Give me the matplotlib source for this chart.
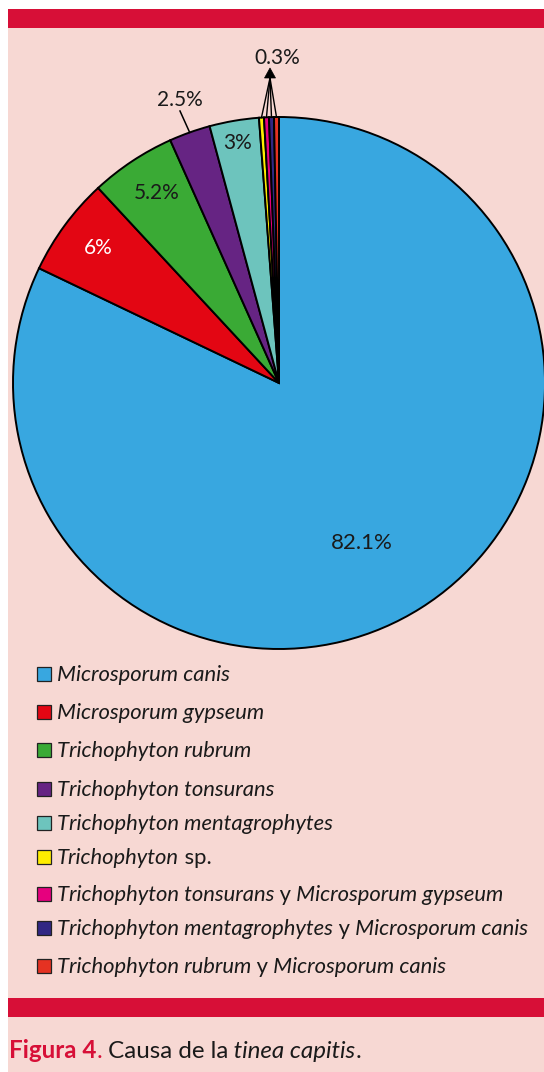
import numpy as np
import matplotlib
matplotlib.use("Agg")
import matplotlib.pyplot as plt
from matplotlib.patches import Rectangle, Polygon

# Species and their share of tinea capitis cases (%)
species = [
    "Microsporum canis",
    "Microsporum gypseum",
    "Trichophyton rubrum",
    "Trichophyton tonsurans",
    "Trichophyton mentagrophytes",
    "Trichophyton sp.",
    "Trichophyton tonsurans y Microsporum gypseum",
    "Trichophyton mentagrophytes y Microsporum canis",
    "Trichophyton rubrum y Microsporum canis",
]
shares = [82.1, 6.0, 5.2, 2.5, 3.0, 0.3, 0.3, 0.3, 0.3]
value_labels = ["82.1%", "6%", "5.2%", "2.5%", "3%", "0.3%"]

colors = ["#38A7E0", "#E30613", "#3AAA35", "#662483", "#6DC4BD",
          "#FFED00", "#E6007E", "#312783", "#E53222"]

BG = "#F7D8D3"
BAND = "#D70F37"
FONT = "Lato"

W, H = 544, 1072
fig = plt.figure(figsize=(W / 100, H / 100), dpi=100)
fig.patch.set_facecolor("white")
ax = fig.add_axes([0, 0, 1, 1])


def Y(y):
    """Convert a top-down pixel row to the axes' bottom-up coordinate."""
    return H - y


# page background and the two red bands
ax.add_patch(Rectangle((8, 0), W - 8, Y(28), facecolor=BG, edgecolor="none", zorder=0))
ax.add_patch(Rectangle((8, Y(28)), W - 8, 19, facecolor=BAND, edgecolor="none", zorder=0))
ax.add_patch(Rectangle((8, Y(1017)), W - 8, 19, facecolor=BAND, edgecolor="none", zorder=0))

# pie
cx, cy, R = 279, Y(383), 266
wedges, _ = ax.pie(shares, colors=colors, startangle=90, counterclock=False,
                   center=(cx, cy), radius=R,
                   wedgeprops=dict(edgecolor="black", linewidth=1.4))
ax.set_xlim(0, W)
ax.set_ylim(0, H)
ax.set_aspect("auto")
ax.axis("off")


def mid_angle(w):
    return np.deg2rad((w.theta1 + w.theta2) / 2)


def arc_point(w, r=R):
    a = mid_angle(w)
    return cx + r * np.cos(a), cy + r * np.sin(a)


# percentages inside / beside the wedges
label_pos = [(362, 543), (98, 248), (157, 193), (180, 100), (238, 143)]
label_col = ["#1a1a1a", "white", "#1a1a1a", "#1a1a1a", "#1a1a1a"]
label_size = [16, 15, 15, 15, 15]
for txt, (lx, ly), col, fs in zip(value_labels[:5], label_pos, label_col, label_size):
    ax.text(lx, Y(ly), txt, ha="center", va="center", fontsize=fs,
            color=col, family=FONT, zorder=5)

# leader line for 2.5%
px, py = arc_point(wedges[3])
ax.plot([180, px], [Y(111), py], color="black", lw=1.1, zorder=5)

# the four smallest wedges share one label with an arrow
ax.text(277, Y(58), value_labels[5], ha="center", va="center", fontsize=15,
        color="#1a1a1a", family=FONT, zorder=5)
base = (270, Y(78))
for w in wedges[5:]:
    ex, ey = arc_point(w)
    ax.plot([base[0], ex], [base[1], ey], color="black", lw=1.0, zorder=5)
ax.add_patch(Polygon([(264.5, Y(78)), (275.5, Y(78)), (270, Y(68))],
                     closed=True, facecolor="black", edgecolor="black", lw=0.5, zorder=6))


def draw_runs(x, y, runs, size):
    """Draw consecutive text pieces on one baseline."""
    s, kw = runs[0]
    t = ax.text(x, y, s, ha="left", va="baseline", fontsize=size,
                family=FONT, zorder=5, **kw)
    for s, kw in runs[1:]:
        t = ax.annotate(s, xy=(1, 0), xycoords=t, ha="left", va="bottom",
                        fontsize=size, family=FONT, zorder=5, **kw)
    return t


def species_runs(name):
    ital = dict(style="italic", color="#1a1a1a")
    norm = dict(style="normal", color="#1a1a1a")
    if " y " in name:
        a, b = name.split(" y ")
        return [(a, ital), (" y", norm), (" " + b, ital)]
    if name.endswith(" sp."):
        return [(name[:-4], ital), (" sp.", norm)]
    return [(name, ital)]


# legend
row_centers = [674, 712, 750, 789, 823, 857, 894, 928, 966]
for name, col, rc in zip(species, colors, row_centers):
    ax.add_patch(Rectangle((37, Y(rc + 7)), 14, 14, facecolor=col,
                           edgecolor="#222222", lw=0.9, zorder=5))
    draw_runs(57, Y(rc + 7), species_runs(name), 15.8)

# caption
red = dict(color=BAND, weight="bold")
draw_runs(9, Y(1058), [
    ("Figura 4", red),
    (".", dict(color=BAND)),
    (" Causa de la", dict(color="#1a1a1a")),
    (" tinea capitis", dict(color="#1a1a1a", style="italic")),
    (".", dict(color="#1a1a1a")),
], 17.4)

fig.savefig("out.png", dpi=100, facecolor=fig.get_facecolor())
